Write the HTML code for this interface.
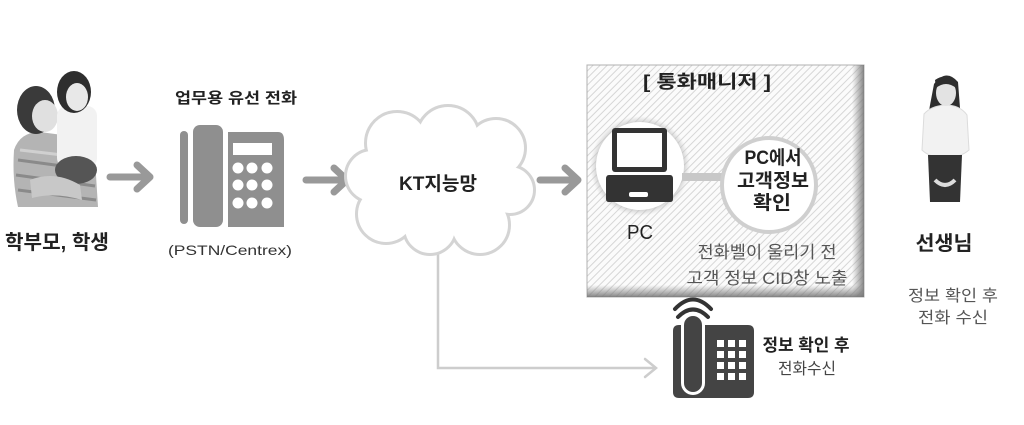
<!DOCTYPE html>
<html><head><meta charset="utf-8"><style>
html,body{margin:0;padding:0;background:#fff;}
svg{display:block;}
text{font-family:"Liberation Sans","Noto Sans CJK KR",sans-serif;}
</style></head><body>
<svg width="1024" height="425" viewBox="0 0 1024 425" xmlns="http://www.w3.org/2000/svg">
<defs>
<pattern id="hatch" width="5" height="5" patternUnits="userSpaceOnUse" patternTransform="rotate(45)">
<rect width="5" height="5" fill="#fbfbfb"/>
<line x1="0" y1="0" x2="0" y2="5" stroke="#d6d6d6" stroke-width="2"/>
</pattern>
<linearGradient id="shR" x1="0" y1="0" x2="1" y2="0">
<stop offset="0" stop-color="#888" stop-opacity="0"/><stop offset="1" stop-color="#777" stop-opacity="0.9"/>
</linearGradient>
<linearGradient id="shB" x1="0" y1="0" x2="0" y2="1">
<stop offset="0" stop-color="#888" stop-opacity="0"/><stop offset="1" stop-color="#777" stop-opacity="0.9"/>
</linearGradient>
<radialGradient id="pcsh" cx="0.5" cy="0.5" r="0.5">
<stop offset="0.85" stop-color="#bbb" stop-opacity="0.8"/><stop offset="1" stop-color="#ccc" stop-opacity="0"/>
</radialGradient>
</defs>

<!-- Parent & child -->
<g>
<path d="M14 150 Q20 132 40 132 L70 136 Q92 150 96 175 L98 207 L18 207 Q12 180 14 150 Z" fill="#b4b4b4"/>
<path d="M18 160 L92 170 M16 175 L95 186 M18 190 L96 200" stroke="#8a8a8a" stroke-width="3"/>
<path d="M20 150 L88 158" stroke="#d0d0d0" stroke-width="3"/>
<ellipse cx="36" cy="110" rx="19" ry="24" fill="#3a3a3a"/>
<ellipse cx="45" cy="116" rx="13" ry="16" fill="#e0e0e0"/>
<rect x="57" y="106" width="40" height="62" rx="10" fill="#f2f2f2"/>
<ellipse cx="76" cy="170" rx="21" ry="14" fill="#555"/>
<ellipse cx="74" cy="92" rx="17" ry="21" fill="#2e2e2e"/>
<ellipse cx="77" cy="97" rx="11" ry="14" fill="#e8e8e8"/>
<path d="M30 180 Q55 170 80 185 L82 200 Q55 192 32 198 Z" fill="#c8c8c8"/>
</g>
<text x="57" y="249" text-anchor="middle" font-size="20" font-weight="bold" fill="#222" textLength="104" lengthAdjust="spacingAndGlyphs">학부모, 학생</text>

<!-- arrows -->
<g stroke="#999" stroke-width="7" stroke-linecap="round" stroke-linejoin="round" fill="none">
<path d="M110 177 L149 177 M137 165 L150 177 L137 189"/>
<path d="M306 180 L346 180 M334 168 L347 180 L334 192"/>
<path d="M540 180 L577 180 M565 168 L578 180 L565 192"/>
</g>

<!-- desk phone -->
<text x="236" y="103" text-anchor="middle" font-size="15" font-weight="bold" fill="#222" textLength="122" lengthAdjust="spacingAndGlyphs">업무용 유선 전화</text>
<g fill="#8f8f8f">
<rect x="180" y="131" width="8" height="93" rx="4"/>
<rect x="193" y="125" width="30" height="102" rx="7"/>
<path d="M228 132 L278 132 Q284 132 284 140 L284 227 L228 227 Z"/>
</g>
<rect x="233" y="143" width="39" height="12" fill="#fff"/>
<g fill="#fff">
<circle cx="238" cy="168" r="5.5"/><circle cx="252" cy="168" r="5.5"/><circle cx="267" cy="168" r="5.5"/>
<circle cx="238" cy="185" r="5.5"/><circle cx="252" cy="185" r="5.5"/><circle cx="267" cy="185" r="5.5"/>
<circle cx="238" cy="203" r="5.5"/><circle cx="252" cy="203" r="5.5"/><circle cx="267" cy="203" r="5.5"/>
</g>
<text x="230" y="255" text-anchor="middle" font-size="14" fill="#333" textLength="124" lengthAdjust="spacingAndGlyphs">(PSTN/Centrex)</text>

<!-- connector from cloud to bottom phone -->
<path d="M438 240 L438 368 L656 368" stroke="#cdcdcd" stroke-width="2.5" fill="none"/>
<path d="M645 359 L656 368 L645 377" stroke="#cdcdcd" stroke-width="2.5" fill="none" stroke-linecap="round"/>

<!-- cloud -->
<g stroke="#d4d4d4" stroke-width="6" fill="#fff">
<circle cx="397" cy="143" r="30"/>
<circle cx="448" cy="137" r="30"/>
<circle cx="496" cy="148" r="28"/>
<circle cx="510" cy="190" r="23"/>
<circle cx="480" cy="225" r="28"/>
<circle cx="430" cy="228" r="25"/>
<circle cx="386" cy="214" r="28"/>
<circle cx="372" cy="176" r="25"/>
</g>
<g fill="#fff">
<circle cx="397" cy="143" r="30"/>
<circle cx="448" cy="137" r="30"/>
<circle cx="496" cy="148" r="28"/>
<circle cx="510" cy="190" r="23"/>
<circle cx="480" cy="225" r="28"/>
<circle cx="430" cy="228" r="25"/>
<circle cx="386" cy="214" r="28"/>
<circle cx="372" cy="176" r="25"/>
<ellipse cx="440" cy="182" rx="72" ry="52"/>
</g>
<text x="438" y="190" text-anchor="middle" font-size="19" font-weight="bold" fill="#222" textLength="78" lengthAdjust="spacingAndGlyphs">KT지능망</text>

<!-- call manager box -->
<rect x="587" y="65" width="277" height="232" fill="url(#hatch)" stroke="#b0b0b0" stroke-width="1"/>
<rect x="852" y="65" width="12" height="232" fill="url(#shR)"/>
<rect x="587" y="285" width="277" height="12" fill="url(#shB)"/>
<text x="707" y="88" text-anchor="middle" font-size="18" font-weight="bold" fill="#222" textLength="128" lengthAdjust="spacingAndGlyphs">[ 통화매니저 ]</text>

<!-- PC circle -->
<circle cx="640" cy="166" r="50" fill="url(#pcsh)"/>
<circle cx="640" cy="166" r="44" fill="#fff"/>
<rect x="682" y="173" width="44" height="8" fill="#c8c8c8"/>
<!-- laptop -->
<rect x="612" y="128" width="55" height="44" rx="3" fill="#333"/>
<rect x="617" y="133" width="45" height="34" fill="#fff"/>
<path d="M609 175 L670 175 Q673 175 673 179 L673 199 Q673 202 670 202 L609 202 Q606 202 606 199 L606 179 Q606 175 609 175 Z" fill="#333"/>
<rect x="629" y="192" width="19" height="5" rx="2" fill="#fff"/>
<text x="640" y="239" text-anchor="middle" font-size="20" fill="#222" textLength="26" lengthAdjust="spacingAndGlyphs">PC</text>

<!-- info circle -->
<circle cx="769" cy="185" r="47" fill="#fff" stroke="#cfcfcf" stroke-width="4"/>
<g font-size="19" font-weight="bold" fill="#222" text-anchor="middle">
<text x="773" y="164" textLength="57" lengthAdjust="spacingAndGlyphs">PC에서</text>
<text x="773" y="187" textLength="72" lengthAdjust="spacingAndGlyphs">고객정보</text>
<text x="772" y="209" textLength="38" lengthAdjust="spacingAndGlyphs">확인</text>
</g>
<text x="767" y="258" text-anchor="middle" font-size="17" fill="#555" textLength="139" lengthAdjust="spacingAndGlyphs">전화벨이 울리기 전</text>
<text x="767" y="284" text-anchor="middle" font-size="17" fill="#555" textLength="161" lengthAdjust="spacingAndGlyphs">고객 정보 CID창 노출</text>

<!-- bottom phone -->
<g fill="none" stroke="#333" stroke-width="4" stroke-linecap="round">
<path d="M678 317 Q693 302 708 317"/>
<path d="M675 309 Q693 290 711 309"/>
</g>
<path d="M679 325 L748 325 Q754 325 754 331 L754 392 Q754 398 748 398 L679 398 Q673 398 673 392 L673 331 Q673 325 679 325 Z" fill="#444"/>
<rect x="681" y="313" width="24" height="82" rx="12" fill="#fff"/>
<rect x="684" y="316" width="18" height="76" rx="9" fill="#444"/>
<g fill="#fff">
<rect x="717" y="340" width="7" height="7"/><rect x="728" y="340" width="7" height="7"/><rect x="739" y="340" width="7" height="7"/>
<rect x="717" y="351" width="7" height="7"/><rect x="728" y="351" width="7" height="7"/><rect x="739" y="351" width="7" height="7"/>
<rect x="717" y="362" width="7" height="7"/><rect x="728" y="362" width="7" height="7"/><rect x="739" y="362" width="7" height="7"/>
<rect x="717" y="373" width="7" height="7"/><rect x="728" y="373" width="7" height="7"/><rect x="739" y="373" width="7" height="7"/>
</g>
<text x="806" y="351" text-anchor="middle" font-size="17" font-weight="bold" fill="#222" textLength="87" lengthAdjust="spacingAndGlyphs">정보 확인 후</text>
<text x="807" y="374" text-anchor="middle" font-size="16" fill="#444" textLength="58" lengthAdjust="spacingAndGlyphs">전화수신</text>

<!-- teacher -->
<g>
<path d="M934 84 Q946 68 958 82 L960 108 L940 112 Q932 128 926 132 Q929 108 934 84 Z" fill="#2e2e2e"/>
<path d="M924 114 Q931 106 945 105 Q960 105 967 115 L969 150 Q960 158 945 157 Q930 158 922 150 Z" fill="#f2f2f2" stroke="#dcdcdc" stroke-width="1"/>
<path d="M928 155 L962 155 L960 202 L930 202 Z" fill="#333"/>
<ellipse cx="946" cy="93" rx="10" ry="13" fill="#e3e3e3"/>
<path d="M935 80 Q946 72 957 82 L956 88 Q946 80 936 88 Z" fill="#2e2e2e"/>
<path d="M935 180 Q945 190 955 180" stroke="#ddd" stroke-width="4" fill="none"/>
</g>
<text x="944" y="250" text-anchor="middle" font-size="20" font-weight="bold" fill="#222" textLength="57" lengthAdjust="spacingAndGlyphs">선생님</text>
<text x="953" y="301" text-anchor="middle" font-size="16" fill="#555" textLength="90" lengthAdjust="spacingAndGlyphs">정보 확인 후</text>
<text x="953" y="323" text-anchor="middle" font-size="16" fill="#555" textLength="70" lengthAdjust="spacingAndGlyphs">전화 수신</text>
</svg>
</body></html>
